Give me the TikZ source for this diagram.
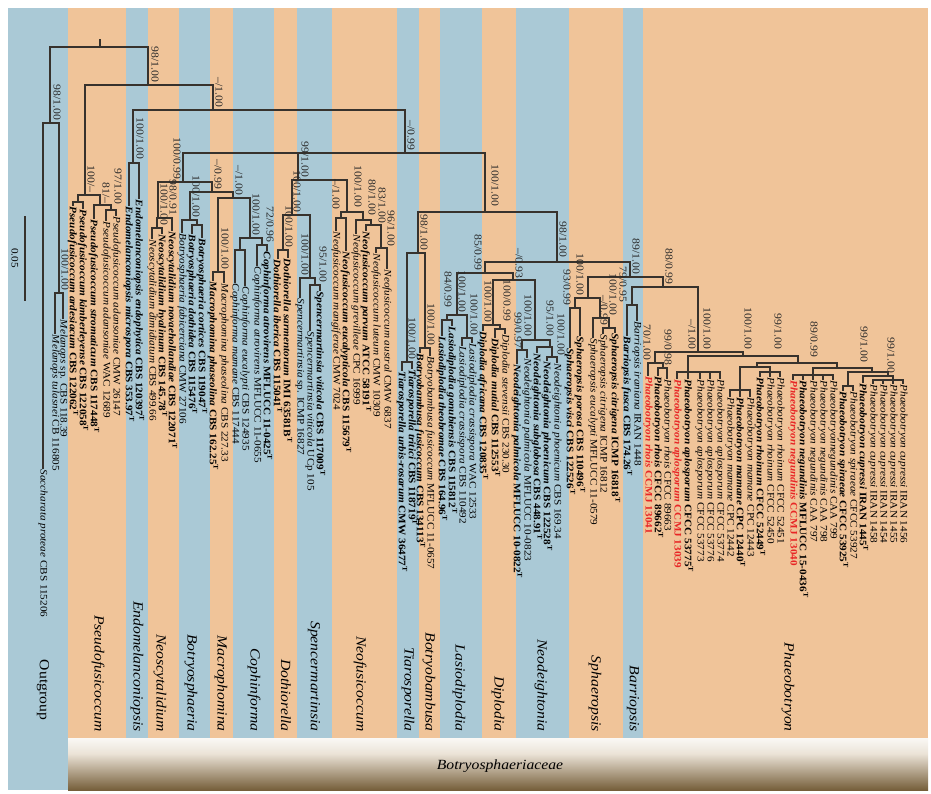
\documentclass[tikz,border=0pt]{standalone}
\usepackage{fontspec}
\setmainfont[FakeStretch=1.12]{Liberation Serif}
\usepackage{tikz}
\usetikzlibrary{positioning}
\definecolor{stripblue}{RGB}{170,201,214}
\definecolor{stripor}{RGB}{240,196,153}
\definecolor{branch}{RGB}{55,50,45}
\definecolor{suptext}{RGB}{40,40,40}
\definecolor{newred}{RGB}{232,38,38}
\definecolor{bandbrown}{RGB}{96,72,34}
\definecolor{bandmid}{RGB}{205,185,155}
\pgfdeclareverticalshading{bandshade}{100bp}{color(0bp)=(bandbrown); color(25bp)=(bandbrown!80!bandmid); color(60bp)=(bandmid!40!white); color(80bp)=(white); color(100bp)=(white)}
\newcommand{\tipsize}{\fontsize{10}{11}\selectfont}
\newcommand{\supsize}{\fontsize{10.5}{11}\selectfont}
\newcommand{\genussize}{\fontsize{14}{16}\selectfont}
\tikzset{
  br/.style={draw=branch, line width=1.1pt, line cap=rect},
  tip/.style={anchor=west, rotate=-90, inner sep=1.2pt, font=\tipsize},
  sup/.style={anchor=east, rotate=-90, inner sep=0.6pt, font=\supsize, text=suptext},
  genus/.style={anchor=east, rotate=-90, inner sep=0pt, font=\genussize\itshape},
}
% tip texts
\newcommand{\rg}[2]{\textit{#1} #2}
\newcommand{\ty}[2]{\textbf{\textit{#1} #2\textsuperscript{T}}}
\newcommand{\nw}[2]{\textcolor{newred}{\textbf{\textit{#1} #2}}}
% clade{x left}{x right}{y}{stem x}{parent y}
\newcommand{\clade}[5]{\draw[br] (#1,#3) -- (#2,#3) (#4,#5) -- (#4,#3);}
% leaf{name}{x}{parent y}{end y}{text}
\newcommand{\leaf}[5]{\draw[br] (#2,#3) -- (#2,#4) node[tip] (#1) {#5};}
\newcommand{\supp}[3]{\node[sup] at (#1,#2) {#3};}

\begin{document}
\begin{tikzpicture}[x=1pt, y=-1pt]
\useasboundingbox (0,0) rectangle (931,794);

% genus strips
\fill[stripblue] (8,8) rectangle (68,790);
\foreach \a/\b/\c in {68/126/stripor, 126/148/stripblue, 148/179/stripor,
    179/210/stripblue, 210/233/stripor, 233/274/stripblue, 274/297/stripor,
    297/332/stripblue, 332/397/stripor, 397/419/stripblue, 419/440/stripor,
    440/482/stripblue, 482/516/stripor, 516/569/stripblue, 569/623/stripor,
    623/643/stripblue, 643/928/stripor}
  \fill[\c] (\a,8) rectangle (\b,738);
\shade[shading=bandshade] (68,738) rectangle (928,790);
\node[font=\genussize\itshape] (fam) at (500,766) {Botryosphaeriaceae};

% genus names
\node[rotate=-90, font=\genussize] (gout) at (43,690) {Outgroup};
\foreach \x/\g in {98/Pseudofusicoccum, 137/Endomelanconiopsis, 160/Neoscytalidium,
    191/Botryosphaeria, 221/Macrophomina, 254/Cophinforma, 286/Dothiorella,
    314/Spencermartinsia, 360/Neofusicoccum, 408/Tiarosporella, 429/Botryobambusa,
    459/Lasiodiplodia, 498/Diplodia, 541/Neodeightonia, 595/Sphaeropsis,
    633/Barriopsis, 788/Phaeobotryon}
  \node[genus] (g\g) at (\x,732) {\g};

% scale bar
\draw[br] (25,217) -- (25,300);
\node[rotate=-90, font=\tipsize] (scale) at (15,258) {0.05};

% root and outgroup
\clade{50}{148}{47}{100}{40}
\clade{43}{59}{123}{50}{47}
\supp{57}{121}{98/1.00}
\leaf{sacpro}{43}{123}{468}{\rg{Saccharata proteae}{CBS 115206}}
\clade{55}{63}{293}{59}{123}
\supp{65}{291}{100/1.00}
\leaf{meltul}{55}{293}{333}{\rg{Melanops tulasnei}{CB 116805}}
\leaf{melsp}{63}{293}{318}{\textit{Melanops} sp. CBS 118.39}

% Pseudofusicoccum
\clade{85}{213}{85}{148}{47}
\supp{155}{83}{98/1.00}
\clade{78}{100}{195}{85}{85}
\supp{91}{193}{100/--}
\clade{73}{83}{202}{78}{195}
\leaf{psard}{73}{202}{205}{\ty{Pseudofusicoccum ardesiacum}{CBS 122062}}
\leaf{pskim}{83}{202}{208}{\ty{Pseudofusicoccum kimberleyense}{CBS 122058}}
\clade{94}{111}{205}{100}{195}
\supp{106}{204}{81/--}
\leaf{psstr}{94}{205}{218}{\ty{Pseudofusicoccum stromaticum}{CBS 117448}}
\clade{106}{116}{210}{111}{205}
\supp{118}{205}{97/1.00}
\leaf{psad1}{106}{210}{220}{\rg{Pseudofusicoccum adansoniae}{WAC 12689}}
\leaf{psad2}{116}{210}{215}{\rg{Pseudofusicoccum adansoniae}{CMW 26147}}

% Endomelanconiopsis
\clade{133}{405}{110}{213}{85}
\supp{219}{108}{--/1.00}
\clade{129}{139}{163}{133}{110}
\supp{140}{160}{100/1.00}
\leaf{enmic}{129}{163}{205}{\ty{Endomelanconiopsis microspora}{CBS 353.97}}
\leaf{enend}{139}{163}{198}{\ty{Endomelanconiopsis endophytica}{CBS 120397}}

% Neoscytalidium to Cophinforma
\clade{183}{485}{153}{405}{110}
\supp{411}{151}{--/0.99}
\clade{158}{212}{182}{183}{153}
\supp{177}{180}{100/0.99}
\clade{157}{172}{218}{158}{182}
\supp{173}{216}{98/0.91}
\clade{152}{162}{228}{157}{218}
\supp{164}{226}{100/1.00}
\leaf{nsdim}{152}{228}{238}{\rg{Neoscytalidium dimidiatum}{CBS 499.66}}
\leaf{nshya}{162}{228}{233}{\ty{Neoscytalidium hyalinum}{CBS 145.78}}
\leaf{nsnov}{172}{218}{230}{\ty{Neoscytalidium novaehollandiae}{CBS 122071}}
\clade{190}{233}{192}{212}{182}
\supp{218}{190}{--/0.99}
\clade{182}{197}{220}{190}{192}
\supp{196}{218}{100/1.00}
\leaf{bofab}{182}{220}{232}{\rg{Botryosphaeria fabicerciana}{CMW 27106}}
\clade{192}{202}{225}{197}{220}
\leaf{bodot}{192}{225}{233}{\ty{Botryosphaeria dothidea}{CBS 115476}}
\leaf{bocor}{202}{225}{237}{\ty{Botryosphaeria cortices}{CBS 119047}}
\clade{218}{250}{198}{233}{192}
\supp{239}{196}{--/1.00}
\clade{213}{224}{272}{218}{198}
\supp{225}{270}{100/1.00}
\leaf{maph1}{213}{272}{280}{\ty{Macrophomina phaseolina}{CBS 162.25}}
\leaf{maph2}{224}{272}{282}{\rg{Macrophomina phaseolina}{CBS 227.33}}
\clade{240}{262}{238}{250}{198}
\supp{256}{236}{100/1.00}
\clade{235}{245}{250}{240}{238}
\leaf{comam}{235}{250}{282}{\rg{Cophinforma mamane}{CBS 117444}}
\leaf{coeuc}{245}{250}{285}{\rg{Cophinforma eucalypti}{CBS 124935}}
\clade{257}{267}{245}{262}{238}
\supp{270}{243}{72/0.96}
\leaf{coat1}{257}{245}{265}{\rg{Cophinforma atrovirens}{MFLUCC 11-0655}}
\leaf{coat2}{267}{245}{250}{\ty{Cophinforma atrovirens}{MFLUCC 11-0425}}

% Dothiorella, Spencermartinsia, Neofusicoccum
\clade{292}{347}{180}{298}{153}
\supp{305}{178}{99/1.00}
\clade{283}{310}{215}{292}{180}
\supp{297}{213}{100/1.00}
\clade{278}{288}{250}{283}{215}
\supp{289}{248}{100/1.00}
\leaf{doibe}{278}{250}{258}{\ty{Dothiorella iberica}{CBS 115041}}
\leaf{dosar}{288}{250}{257}{\ty{Dothiorella sarmentorum}{IMI 63581B}}
\clade{300}{315}{278}{310}{215}
\supp{305}{276}{100/1.00}
\leaf{spsp}{300}{278}{297}{\textit{Spencermartinsia} sp. ICMP 16827}
\clade{310}{320}{285}{315}{278}
\supp{323}{283}{95/1.00}
\leaf{spvi1}{310}{285}{330}{\rg{Spencermartinsia viticola}{UCp 105}}
\leaf{spvi2}{320}{285}{290}{\ty{Spencermartinsia viticola}{CBS 117009}}
\clade{341}{363}{212}{347}{180}
\supp{336}{210}{--/1.00}
\supp{358}{208}{100/1.00}
\clade{336}{346}{218}{341}{212}
\leaf{nfman}{336}{218}{230}{\rg{Neofusicoccum mangiferae}{CMW 7024}}
\leaf{nfeuc}{346}{218}{250}{\ty{Neofusicoccum eucalypticola}{CBS 115679}}
\clade{356}{371}{220}{363}{212}
\supp{372}{216}{80/1.00}
\leaf{nfgre}{356}{220}{233}{\rg{Neofusicoccum grevilleae}{CPC 16999}}
\clade{366}{381}{225}{371}{220}
\supp{382}{224}{83/1.00}
\leaf{nfpar}{366}{225}{230}{\ty{Neofusicoccum parvum}{ATCC 58191}}
\clade{376}{387}{248}{381}{225}
\supp{391}{247}{96/1.00}
\leaf{nflut}{376}{248}{252}{\rg{Neofusicoccum luteum}{CMW 10309}}
\leaf{nfaus}{387}{248}{268}{\rg{Neofusicoccum austral}{CMW 6837}}

% Tiarosporella, Botryobambusa
\clade{418}{557}{212}{485}{153}
\supp{495}{207}{100/1.00}
\clade{407}{425}{253}{418}{212}
\supp{424}{251}{98/1.00}
\clade{402}{412}{362}{407}{253}
\supp{412}{360}{100/1.00}
\leaf{tiurb}{402}{362}{370}{\ty{Tiarosporella urbis-rosarum}{CMW 36477}}
\leaf{titri}{412}{362}{368}{\ty{Tiarosporella tritici}{CBS 118719}}
\clade{420}{430}{348}{425}{253}
\supp{431}{346}{100/1.00}
\leaf{bbfu1}{420}{348}{352}{\ty{Botryobambusa fusicoccum}{CBS 134113}}
\leaf{bbfu2}{430}{348}{355}{\rg{Botryobambusa fusicoccum}{MFLUCC 11-0657}}

% Lasiodiplodia, Diplodia, Neodeightonia
\clade{485}{630}{262}{557}{212}
\supp{563}{258}{98/1.00}
\clade{457}{513}{273}{485}{262}
\supp{478}{271}{85/0.99}
\clade{447}{467}{315}{457}{273}
\supp{462}{313}{100/1.00}
\clade{442}{452}{320}{447}{315}
\supp{448}{308}{84/0.99}
\leaf{lathe}{442}{320}{335}{\ty{Lasiodiplodia theobromae}{CBS 164.96}}
\leaf{lagon}{452}{320}{325}{\ty{Lasiodiplodia gonubiensis}{CBS 115812}}
\clade{462}{472}{338}{467}{315}
\supp{474}{336}{100/1.00}
\leaf{lacr1}{462}{338}{345}{\rg{Lasiodiplodia crassispora}{CBS 110492}}
\leaf{lacr2}{472}{338}{342}{\rg{Lasiodiplodia crassispora}{WAC 12533}}
\clade{493}{535}{280}{513}{273}
\supp{519}{279}{--/0.93}
\clade{483}{500}{325}{493}{280}
\supp{488}{323}{100/1.00}
\leaf{diafr}{483}{325}{330}{\ty{Diplodia africana}{CBS 120835}}
\clade{495}{505}{329}{500}{325}
\supp{507}{322}{100/0.99}
\leaf{dimut}{495}{329}{337}{\ty{Diplodia mutial}{CBS 112553}}
\leaf{diste}{505}{329}{333}{\rg{Diplodia stevensii}{CBS 230.30}}
\clade{522}{550}{340}{535}{280}
\supp{528}{337}{100/1.00}
\clade{517}{527}{350}{522}{340}
\supp{518}{349}{99/0.97}
\leaf{nepa1}{517}{350}{363}{\ty{Neodeightonia palmicola}{MFLUCC 10-0822}}
\leaf{nepa2}{527}{350}{357}{\rg{Neodeightonia palmicola}{MFLUCC 10-0823}}
\clade{537}{552}{347}{550}{340}
\supp{550}{337}{95/1.00}
\leaf{nesub}{537}{347}{352}{\ty{Neodeightonia subglobosa}{CBS 448.91}}
\clade{547}{557}{357}{552}{347}
\supp{561}{356}{100/1.00}
\leaf{neph1}{547}{357}{360}{\ty{Neodeightonia phoenicum}{CBS 122528}}
\leaf{neph2}{557}{357}{362}{\rg{Neodeightonia phoenicum}{CBS 169.34}}

% Sphaeropsis
\clade{588}{663}{277}{630}{262}
\supp{636}{275}{89/1.00}
\clade{575}{600}{298}{588}{277}
\supp{580}{296}{100/1.00}
\clade{570}{580}{308}{575}{298}
\supp{567}{306}{93/0.99}
\leaf{sphvi}{570}{308}{347}{\ty{Sphaeropsis visci}{CBS 122526}}
\leaf{sphpo}{580}{308}{335}{\ty{Sphaeropsis porosa}{CBS 110496}}
\clade{593}{609}{318}{600}{298}
\supp{613}{316}{100/1.00}
\leaf{spheu}{593}{318}{337}{\rg{Sphaeropsis eucalypti}{MFLUCC 11-0579}}
\clade{603}{615}{328}{609}{318}
\supp{604}{326}{--/0.99}
\leaf{sphc1}{603}{328}{333}{\rg{Sphaeropsis citrigena}{ICMP 16812}}
\leaf{sphc2}{615}{328}{332}{\ty{Sphaeropsis citrigena}{ICMP 16818}}

% Barriopsis
\clade{632}{698}{287}{663}{277}
\supp{669}{285}{88/0.99}
\clade{627}{637}{305}{632}{287}
\supp{623}{303}{79/0.95}
\leaf{bafus}{627}{305}{335}{\ty{Barriopsis fusca}{CBS 174.26}}
\leaf{bairn}{637}{305}{320}{\rg{Barriopsis iraniana}{IRAN 1448}}

% Phaeobotryon
\clade{655}{743}{352}{698}{287}
\supp{707}{350}{100/1.00}
\supp{692}{350}{--/1.00}
\clade{648}{663}{363}{655}{352}
\supp{647}{361}{70/1.00}
\leaf{phrh1}{648}{363}{375}{\nw{Phaeobotryon rhois}{CCMJ 13041}}
\clade{658}{667}{368}{663}{363}
\supp{668}{366}{99/0.98}
\leaf{phrh2}{658}{368}{375}{\ty{Phaeobotryon rhois}{CFCC 89662}}
\leaf{phrh3}{667}{368}{378}{\rg{Phaeobotryon rhois}{CFCC 89663}}
\clade{688}{798}{356}{743}{352}
\supp{748}{350}{100/1.00}
\clade{677}{720}{372}{688}{356}
\leaf{phap1}{677}{372}{378}{\nw{Phaeobotryon aplosporum}{CCMJ 13039}}
\leaf{phap2}{688}{372}{378}{\ty{Phaeobotryon aplosporum}{CFCC 53775}}
\leaf{phap3}{700}{372}{378}{\rg{Phaeobotryon aplosporum}{CFCC 53773}}
\leaf{phap4}{710}{372}{378}{\rg{Phaeobotryon aplosporum}{CFCC 53776}}
\leaf{phap5}{720}{372}{378}{\rg{Phaeobotryon aplosporum}{CFCC 53774}}
\clade{757}{837}{363}{798}{356}
\supp{778}{350}{99/1.00}
\clade{740}{770}{367}{757}{363}
\clade{730}{750}{390}{740}{367}
\leaf{phma1}{730}{390}{396}{\rg{Phaeobotryon mamane}{CPC 12442}}
\leaf{phma2}{740}{390}{396}{\ty{Phaeobotryon mamane}{CPC 12440}}
\leaf{phma3}{750}{390}{396}{\rg{Phaeobotryon mamane}{CPC 12443}}
\clade{760}{780}{372}{770}{367}
\leaf{phro1}{760}{372}{376}{\ty{Phaeobotryon rhoinum}{CFCC 52449}}
\leaf{phro2}{770}{372}{376}{\rg{Phaeobotryon rhoinum}{CFCC 52450}}
\leaf{phro3}{780}{372}{376}{\rg{Phaeobotryon rhoinum}{CFCC 52451}}
\clade{813}{872}{368}{837}{363}
\supp{814}{358}{89/0.99}
\clade{793}{833}{375}{813}{368}
\leaf{phne1}{793}{375}{379}{\nw{Phaeobotryon negundinis}{CCMJ 13040}}
\leaf{phne2}{803}{375}{379}{\ty{Phaeobotryon negundinis}{MFLUCC 15-0436}}
\leaf{phne3}{813}{375}{379}{\rg{Phaeobotryon negundinis}{CAA 797}}
\leaf{phne4}{823}{375}{379}{\rg{Phaeobotryon negundinis}{CAA 798}}
\leaf{phne5}{833}{375}{379}{\textit{Phaeobotryonnegundinis} CAA 799}
\clade{848}{888}{372}{872}{368}
\supp{864}{363}{99/1.00}
\clade{843}{853}{386}{848}{372}
\leaf{phsp1}{843}{386}{390}{\ty{Phaeobotryon spiraeae}{CFCC 53925}}
\leaf{phsp2}{853}{386}{390}{\rg{Phaeobotryon spiraeae}{CFCC 53927}}
\clade{863}{893}{376}{888}{372}
\supp{891}{374}{99/1.00}
\leaf{phcu1}{863}{376}{382}{\ty{Phaeobotryon cupressi}{IRAN 1445}}
\clade{873}{903}{380}{893}{376}
\leaf{phcu2}{873}{380}{383}{\rg{Phaeobotryon cupressi}{IRAN 1458}}
\leaf{phcu3}{883}{380}{383}{\rg{Phaeobotryon cupressi}{IRAN 1454}}
\leaf{phcu4}{893}{380}{383}{\rg{Phaeobotryon cupressi}{IRAN 1455}}
\leaf{phcu5}{903}{380}{383}{\rg{Phaeobotryon cupressi}{IRAN 1456}}
\end{tikzpicture}
\end{document}
